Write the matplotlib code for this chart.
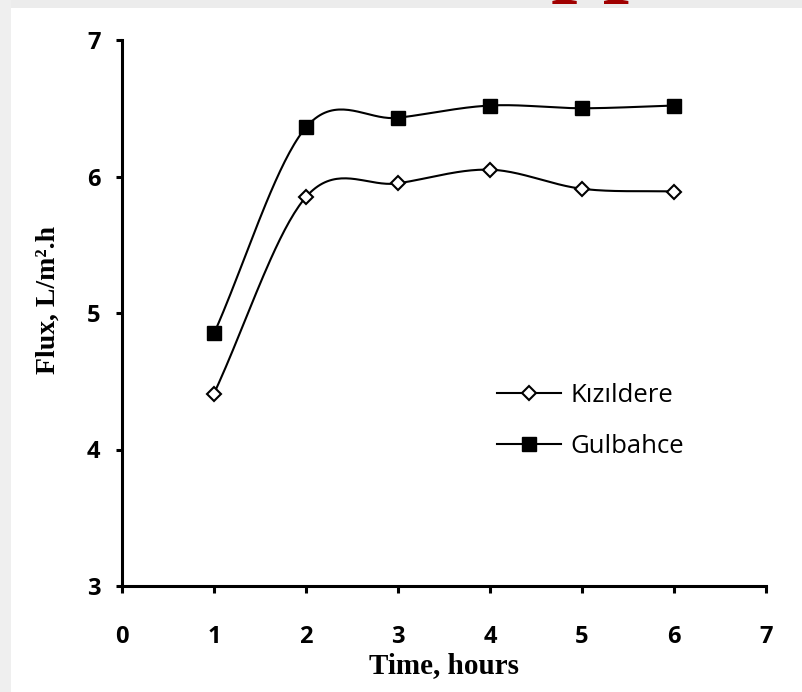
import numpy as np
import matplotlib
matplotlib.use("Agg")
import matplotlib.pyplot as plt
from matplotlib.patches import Rectangle

# ---- data ----
hours = [1, 2, 3, 4, 5, 6]
kizildere = [4.41, 5.85, 5.95, 6.05, 5.91, 5.89]
gulbahce = [4.85, 6.36, 6.43, 6.52, 6.50, 6.52]
series_names = ["Kızıldere", "Gulbahce"]
x_ticks = [0, 1, 2, 3, 4, 5, 6, 7]
y_ticks = [3, 4, 5, 6, 7]


def smooth(x, y, n=40):
    """Catmull-Rom style smoothing (like a spreadsheet 'smoothed line')."""
    x = np.asarray(x, float)
    y = np.asarray(y, float)
    m = len(x)
    tx = np.zeros(m)
    ty = np.zeros(m)
    for i in range(m):
        if i == 0:
            tx[i], ty[i] = x[1] - x[0], y[1] - y[0]
        elif i == m - 1:
            tx[i], ty[i] = x[-1] - x[-2], y[-1] - y[-2]
        else:
            tx[i], ty[i] = (x[i + 1] - x[i - 1]) / 2, (y[i + 1] - y[i - 1]) / 2
    xs, ys = [], []
    t = np.linspace(0, 1, n)
    h00 = 2 * t**3 - 3 * t**2 + 1
    h10 = t**3 - 2 * t**2 + t
    h01 = -2 * t**3 + 3 * t**2
    h11 = t**3 - t**2
    for i in range(m - 1):
        xs.append(h00 * x[i] + h10 * tx[i] + h01 * x[i + 1] + h11 * tx[i + 1])
        ys.append(h00 * y[i] + h10 * ty[i] + h01 * y[i + 1] + h11 * ty[i + 1])
    return np.concatenate(xs), np.concatenate(ys)


W, H = 802, 692
fig = plt.figure(figsize=(W / 100, H / 100), dpi=100)
fig.patch.set_facecolor("white")

# slide-like grey border (top and left)
fig.patches.append(Rectangle((0, 1 - 8 / H), 1, 8 / H, transform=fig.transFigure,
                             facecolor="#ececec", edgecolor="none", zorder=0))
fig.patches.append(Rectangle((0, 0), 11 / W, 1, transform=fig.transFigure,
                             facecolor="#efefef", edgecolor="none", zorder=0))
# cut-off red title fragment at the top
fig.text(551 / W, 1 + 16 / H, "pp", fontsize=68, family="Liberation Serif",
         fontweight="bold", color="#a00000", ha="left", va="baseline")

ax = fig.add_axes([122 / W, 1 - 586 / H, (766 - 122) / W, (586 - 40) / H])
ax.set_xlim(0, 7)
ax.set_ylim(3, 7)

lw = 1.5
xs, ys = smooth(hours, kizildere)
ax.plot(xs, ys, color="black", lw=lw, zorder=2)
ax.plot(hours, kizildere, ls="none", marker="D", ms=7.5, mfc="white",
        mec="black", mew=1.5, zorder=3)
xs, ys = smooth(hours, gulbahce)
ax.plot(xs, ys, color="black", lw=lw, zorder=2)
ax.plot(hours, gulbahce, ls="none", marker="s", ms=10, mfc="black",
        mec="black", mew=1, zorder=3)

# legend handles
h1, = ax.plot([], [], color="black", lw=lw, marker="D", ms=7.5, mfc="white",
              mec="black", mew=1.5)
h2, = ax.plot([], [], color="black", lw=lw, marker="s", ms=10, mfc="black",
              mec="black")
ax.legend([h1, h2], series_names, loc="center left",
          bbox_to_anchor=(497 / W, 1 - 421 / H), bbox_transform=fig.transFigure,
          frameon=False, borderpad=0, borderaxespad=0, handlelength=2.5,
          handletextpad=0.35, labelspacing=1.05, markerscale=1,
          prop={"family": "Open Sans", "size": 18.5})

for s in ["top", "right"]:
    ax.spines[s].set_visible(False)
for s in ["left", "bottom"]:
    ax.spines[s].set_linewidth(2.2)

ax.set_xticks(x_ticks)
ax.set_yticks(y_ticks)
ax.tick_params(axis="x", direction="out", length=5, width=2.2, pad=23,
               labelsize=17)
ax.tick_params(axis="y", direction="out", length=4.5, width=2.2, pad=11,
               labelsize=17)
for lab in ax.get_xticklabels() + ax.get_yticklabels():
    lab.set_family("Open Sans")
    lab.set_fontweight("bold")

ax.set_xlabel("Time, hours", family="Liberation Serif", fontweight="bold",
              fontsize=21, labelpad=2)
ax.set_ylabel("Flux, L/m².h", family="Liberation Serif", fontweight="bold",
              fontsize=20)
ax.yaxis.set_label_coords(-0.095, 0.524)

fig.savefig("out.png", dpi=100)
